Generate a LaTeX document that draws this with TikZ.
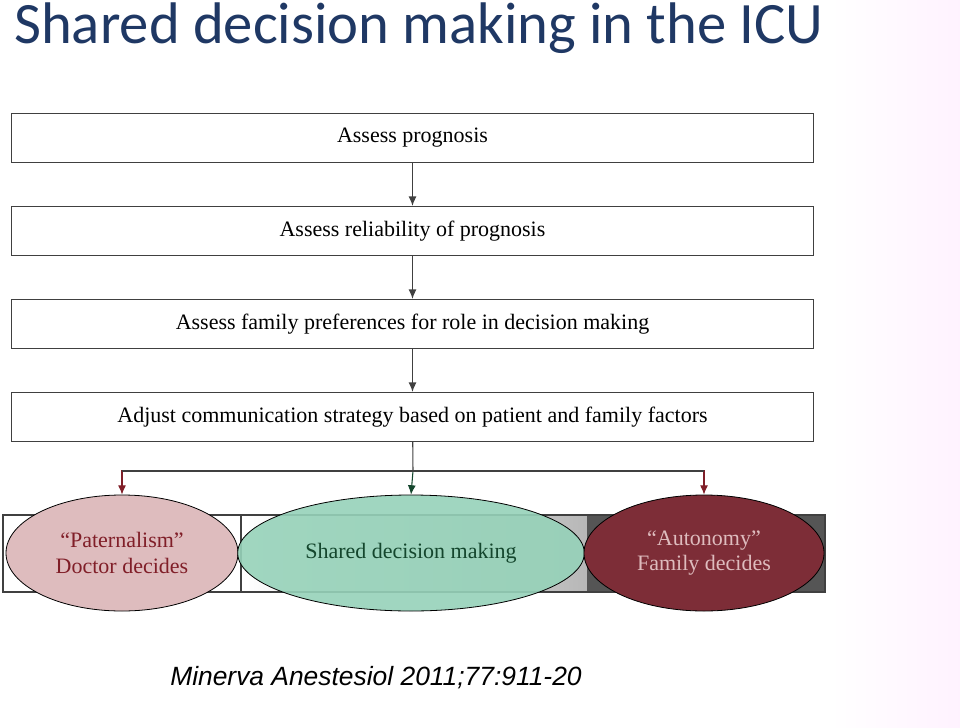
\documentclass[tikz,border=0pt]{standalone}
\usepackage{fontspec}
\setmainfont{Liberation Serif}
\newfontfamily\titlefont{Carlito}
\newfontfamily\citefont{Liberation Sans}
\definecolor{titleblue}{RGB}{31, 56, 100}
\definecolor{paterfill}{RGB}{222, 188, 190}
\definecolor{paterline}{RGB}{128, 30, 40}
\definecolor{sharedfill}{RGB}{150, 210, 185}
\definecolor{sharedtext}{RGB}{20, 70, 45}
\definecolor{autofill}{RGB}{125, 45, 55}
\definecolor{barleft}{RGB}{255, 255, 255}
\definecolor{bardark}{RGB}{85, 85, 85}
\usetikzlibrary{positioning}
\usetikzlibrary{shadings}
\usetikzlibrary{shapes.geometric}
\usetikzlibrary{arrows.meta}

\begin{document}
\begin{tikzpicture}
			[x=0.75pt,y=-0.75pt,
			 stepbox/.style={draw=black!75, line width=0.8pt, minimum width=602pt, minimum height=37pt, inner sep=0pt, font=\fontsize{16.5}{18}\selectfont},
			 flow/.style={draw=black!75, line width=0.8pt, -{Latex[length=7pt,width=6pt]}},
			 choice/.style={ellipse, draw=black, line width=0.6pt, inner sep=0pt, align=center, font=\fontsize{16.5}{19}\selectfont}]
			\useasboundingbox (0,0) rectangle (960,728);
			\shade[left color=white, right color=magenta!5] (830,0) rectangle (960,728);
			\node (title) [anchor=west, text=titleblue, font=\titlefont\fontsize{44}{48}\selectfont, inner sep=0pt] at (14,28) {Shared decision making in the ICU};
			% the four steps
			\node (s1) [stepbox] at (412.5,138) {Assess prognosis};
			\node (s2) [stepbox] at (412.5,231) {Assess reliability of prognosis};
			\node (s3) [stepbox] at (412.5,324) {Assess family preferences for role in decision making};
			\node (s4) [stepbox] at (412.5,417) {Adjust communication strategy based on patient and family factors};
			\draw [flow] (s1) to (s2);
			\draw [flow] (s2) to (s3);
			\draw [flow] (s3) to (s4);
			% bar behind the choices
			\fill [barleft] (3,515) rectangle (241,592);
			\shade [left color=white, right color=black!28] (241,515) rectangle (587,592);
			\fill [bardark] (587,515) rectangle (825,592);
			\draw [black!75, line width=0.8pt] (3,515) rectangle (825,592);
			\draw [black!75, line width=0.8pt] (241,515) -- (241,592);
			% the three choices
			\node (pater) [choice, fill=paterfill, minimum width=174pt, minimum height=87pt, text=paterline] at (122,553) {\textquotedblleft Paternalism\textquotedblright\\Doctor decides};
			\node (shared) [choice, fill=sharedfill, fill opacity=0.9, text opacity=1, minimum width=260pt, minimum height=87pt, text=sharedtext] at (411,553) {Shared decision making};
			\node (auto) [choice, fill=autofill, minimum width=180pt, minimum height=87pt, text=paterfill] at (704,553) {\textquotedblleft Autonomy\textquotedblright\\Family decides};
			\coordinate (split) at (413,471);
			\draw [black!75, line width=0.8pt] (s4) -- (split);
			\draw [flow, paterline] (split) -| (pater.north);
			\draw [flow, sharedtext] (split) -- (shared.north);
			\draw [flow, paterline] (split) -| (auto.north);
			\draw [black!75, line width=0.8pt] (pater.north |- split) -- (auto.north |- split);
			\node (cite) [anchor=west, font=\citefont\itshape\fontsize{19.8}{22}\selectfont, inner sep=0pt] at (170,678) {Minerva Anestesiol 2011;77:911-20};
	\end{tikzpicture}
\end{document}
